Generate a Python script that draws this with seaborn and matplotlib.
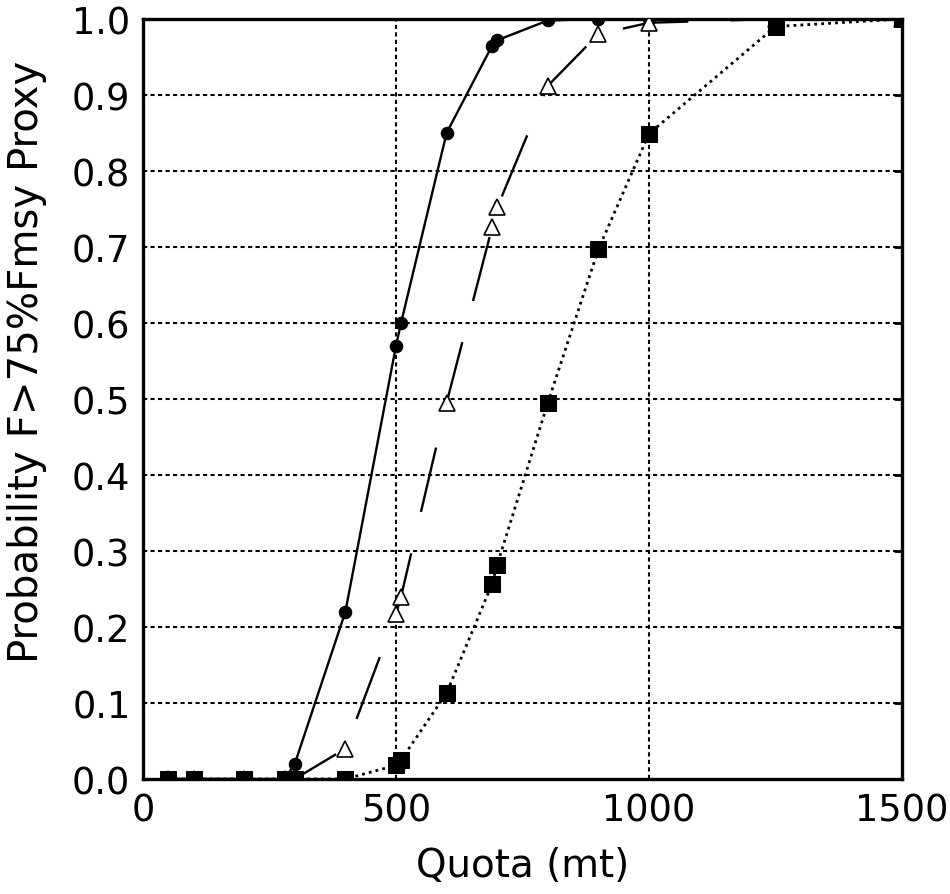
import matplotlib
matplotlib.use("Agg")
import matplotlib.pyplot as plt
import seaborn as sns
import numpy as np
import pandas as pd

sns.set_theme(style="white")
plt.rcParams['font.family'] = ['DejaVu Sans']

quota = [50, 100, 200, 280, 300, 400, 500, 510, 600, 690, 700, 800, 900, 1000, 1250, 1500]
p_circle = [0, 0, 0, 0, 0.02, 0.22, 0.57, 0.60, 0.85, 0.965, 0.972, 0.998, 1.0, 1.0, 1.0, 1.0]
p_triangle = [0, 0, 0, 0, 0, 0.04, 0.217, 0.24, 0.495, 0.726, 0.752, 0.912, 0.98, 0.995, 1.0, 1.0]
p_square = [0, 0, 0, 0, 0, 0, 0.018, 0.025, 0.113, 0.257, 0.282, 0.495, 0.697, 0.849, 0.99, 1.0]

xticks = [0, 500, 1000, 1500]
yticks = [0.0, 0.1, 0.2, 0.3, 0.4, 0.5, 0.6, 0.7, 0.8, 0.9, 1.0]
ytick_labels = ["0.0", "0.1", "0.2", "0.3", "0.4", "0.5", "0.6", "0.7", "0.8", "0.9", "1.0"]

fig = plt.figure(figsize=(9.5, 8.95), dpi=100)
ax = fig.add_axes([0.1505, 0.1285, 0.7990, 0.8492])

# grid
grid_kw = dict(color="black", linewidth=1.5, linestyle=(0, (2, 1.6)), zorder=1)
for yv in yticks[1:-1]:
    ax.axhline(yv, **grid_kw)
for xv in [500, 1000]:
    ax.axvline(xv, **grid_kw)

sns.lineplot(x=quota, y=p_circle, ax=ax, estimator=None, sort=False,
             color="black", linewidth=1.7, linestyle="-",
             marker="o", markersize=9, markerfacecolor="black",
             markeredgecolor="black", zorder=3)
sns.lineplot(x=quota, y=p_triangle, ax=ax, estimator=None, sort=False,
             color="black", linewidth=1.7, linestyle=(0, (28, 18)),
             marker="^", markersize=11, markerfacecolor="white",
             markeredgecolor="black", markeredgewidth=1.2, zorder=4)
sns.lineplot(x=quota, y=p_square, ax=ax, estimator=None, sort=False,
             color="black", linewidth=2.0, linestyle=(0, (1, 1.5)),
             marker="s", markersize=11, markerfacecolor="black",
             markeredgecolor="black", zorder=5)

ax.set_xlim(0, 1500)
ax.set_ylim(0, 1.0)
ax.set_xticks(xticks)
ax.set_xticklabels([str(v) for v in xticks])
ax.set_yticks(yticks)
ax.set_yticklabels(ytick_labels)

ax.tick_params(axis="both", labelsize=26.5, colors="black", length=0, pad=9)
ax.tick_params(axis="y", right=True, direction="in", length=6, width=2)
ax.tick_params(axis="y", left=False)

for s in ax.spines.values():
    s.set_color("black")
    s.set_linewidth(2.4)

ax.set_xlabel("Quota (mt)", fontsize=28, color="black", va="top")
ax.xaxis.set_label_coords(0.5, -0.088)
ax.set_ylabel("Probability F>75%Fmsy Proxy", fontsize=29, color="black")
ax.yaxis.set_label_coords(-0.127, 0.55)
ax.set_facecolor("white")
fig.patch.set_facecolor("white")

fig.savefig("out.png", dpi=100, facecolor="white")
